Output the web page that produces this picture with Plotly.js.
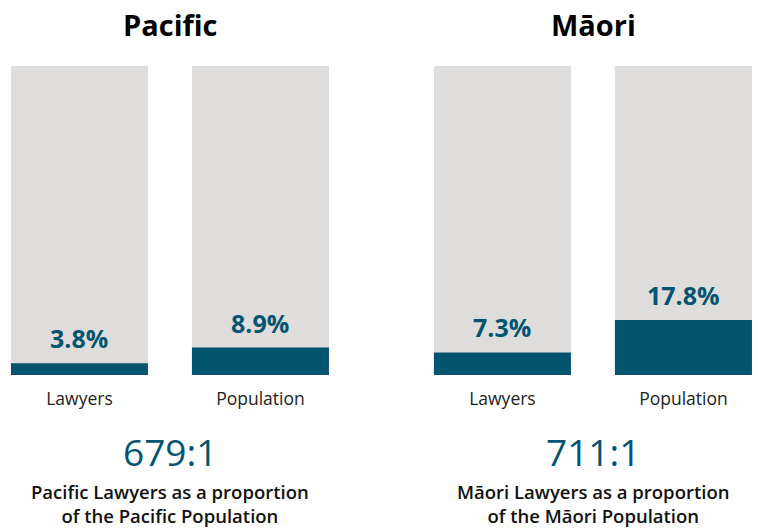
<!DOCTYPE html>
<html>
<head>
<meta charset="utf-8">
<script src="https://cdn.plot.ly/plotly-3.0.1.min.js"></script>
<style>html,body{margin:0;padding:0;background:#fff;}#chart{width:758px;height:528px;}</style>
</head>
<body>
<div id="chart"></div>
<script>
const categories = ['Lawyers', 'Population'];
const pacificValues = [3.8, 8.9];
const maoriValues = [7.3, 17.8];
const totalValues = [100, 100];
const groupTitles = ['Pacific', 'Māori'];
const ratioTexts = ['679:1', '711:1'];
const captionTexts = [
  'Pacific Lawyers as a proportion<br>of the Pacific Population',
  'Māori Lawyers as a proportion<br>of the Māori Population'
];

const GRAY = '#dedddc';
const TEAL = '#03546f';
const FONT = 'Open Sans, sans-serif';

const groups = [
  {vals: pacificValues, xa: 'x', ya: 'y'},
  {vals: maoriValues, xa: 'x2', ya: 'y2'}
];

const traces = [];
groups.forEach(g => {
  traces.push({type: 'bar', x: categories, y: totalValues, xaxis: g.xa, yaxis: g.ya,
    marker: {color: GRAY}, hoverinfo: 'skip', showlegend: false});
  traces.push({type: 'bar', x: categories, y: g.vals, xaxis: g.xa, yaxis: g.ya,
    marker: {color: TEAL}, hoverinfo: 'skip', showlegend: false});
});

const annotations = [];
groups.forEach((g, gi) => {
  g.vals.forEach((v, i) => {
    annotations.push({xref: g.xa, yref: g.ya, x: categories[i], y: v, text: v.toFixed(1) + '%',
      showarrow: false, xanchor: 'center', yanchor: 'bottom', yshift: 6,
      font: {family: FONT, size: 25, color: TEAL, weight: 700}});
  });
  const cx = (gi === 0 ? 170 : 593) / 758;
  annotations.push({xref: 'paper', yref: 'paper', x: cx, y: 1, yshift: 42, xanchor: 'center', yanchor: 'middle',
    text: groupTitles[gi], showarrow: false,
    font: {family: FONT, size: 29, color: '#000', weight: 700}});
  annotations.push({xref: 'paper', yref: 'paper', x: cx, y: 0, yshift: -76, xanchor: 'center', yanchor: 'middle',
    text: ratioTexts[gi], showarrow: false,
    font: {family: FONT, size: 37, color: TEAL, weight: 400}});
  annotations.push({xref: 'paper', yref: 'paper', x: cx, y: 0, yshift: -128, xanchor: 'center', yanchor: 'middle',
    text: captionTexts[gi], showarrow: false, borderpad: 0,
    font: {family: FONT, size: 18.5, color: '#111', weight: 600}});
});

const axisCommon = {type: 'category', showgrid: false, zeroline: false, showline: false,
  ticks: 'outside', ticklen: 8, tickcolor: 'rgba(0,0,0,0)',
  tickfont: {family: FONT, size: 17.5, color: '#222'}, fixedrange: true};
const yCommon = {range: [0, 100], visible: false, fixedrange: true};

const layout = {
  width: 758, height: 528,
  margin: {l: 0, r: 0, t: 66, b: 153, pad: 0},
  paper_bgcolor: '#fff', plot_bgcolor: '#fff',
  barmode: 'overlay', bargap: 0.243,
  xaxis: Object.assign({}, axisCommon, {domain: [0, 0.5], range: [-0.439, 1.655], anchor: 'y'}),
  xaxis2: Object.assign({}, axisCommon, {domain: [0.5, 1], range: [-0.682, 1.412], anchor: 'y2'}),
  yaxis: Object.assign({}, yCommon, {domain: [0, 1], anchor: 'x'}),
  yaxis2: Object.assign({}, yCommon, {domain: [0, 1], anchor: 'x2'}),
  annotations: annotations
};

Plotly.newPlot('chart', traces, layout, {displayModeBar: false, staticPlot: true});
</script>
</body>
</html>
